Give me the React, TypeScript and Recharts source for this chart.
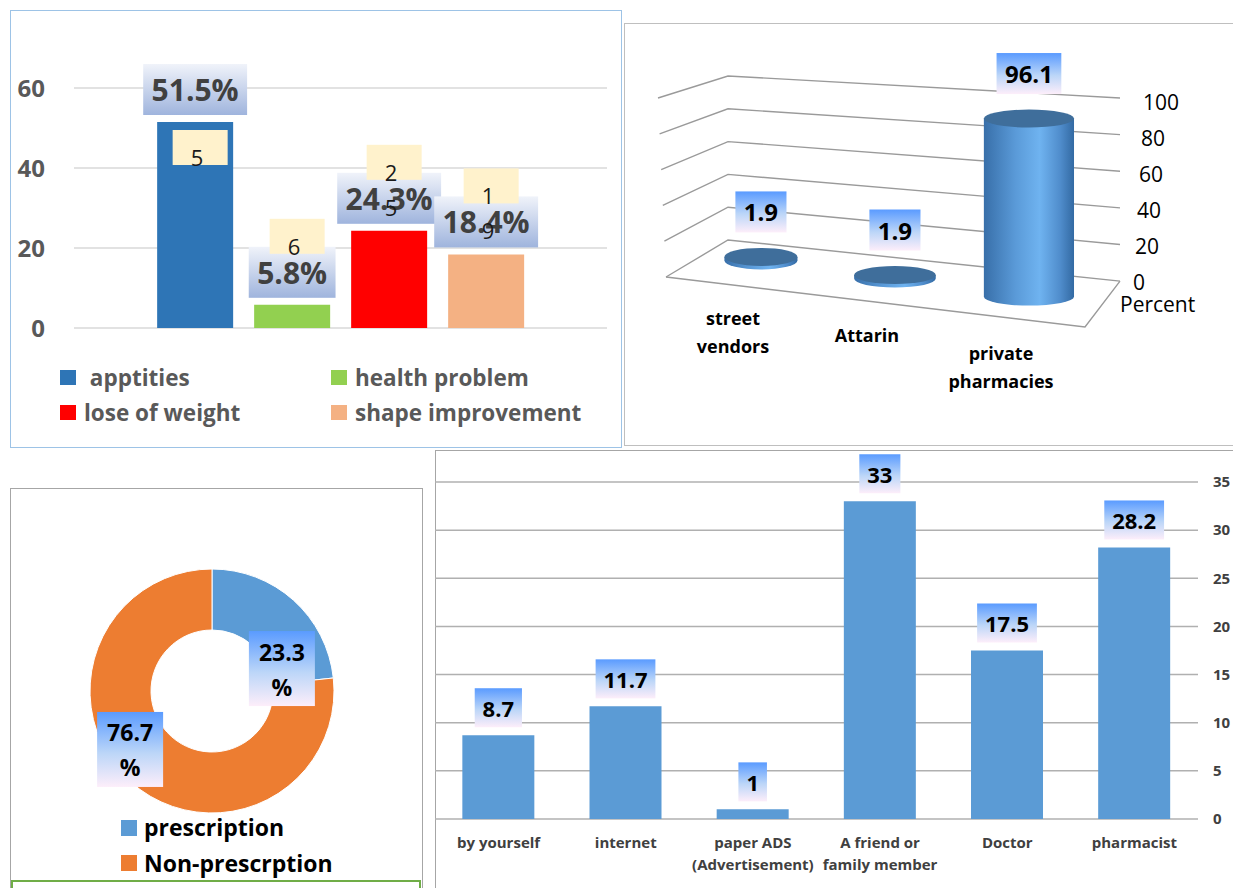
import React from 'react';
import { BarChart, Bar, XAxis, YAxis, CartesianGrid, LabelList, Legend, PieChart, Pie, Cell } from 'recharts';

const FONT = '"Open Sans", "Noto Sans", sans-serif';

// top-left panel: reasons
const reasonNames = [' apptities', 'health problem', 'lose of weight', 'shape improvement'];
const reasonValues = [51.5, 5.8, 24.3, 18.4];
const reasonNotes = ['5', '6', '2\n5', '1\n9'];
const reasonColors = ['#2e75b6', '#92d050', '#ff0000', '#f4b183'];
const reasonTicks = [0, 20, 40, 60];

// top-right panel: where bought
const sourceNames = ['street vendors', 'Attarin', 'private pharmacies'];
const sourceValues = [1.9, 1.9, 96.1];
const sourceTicks = [0, 20, 40, 60, 80, 100];

// bottom-left panel: prescription
const rxNames = ['prescription', 'Non-prescrption'];
const rxValues = [23.3, 76.7];
const rxColors = ['#5b9bd5', '#ed7d31'];

// bottom-right panel: advice source
const adviceNames = ['by yourself', 'internet', 'paper ADS\n(Advertisement)', 'A friend or\nfamily member', 'Doctor', 'pharmacist'];
const adviceValues = [8.7, 11.7, 1, 33, 17.5, 28.2];
const adviceTicks = [0, 5, 10, 15, 20, 25, 30, 35];

const reasonRow: any = { name: '' };
reasonValues.forEach((v, i) => { reasonRow[`s${i}`] = v; });
const sourceData = sourceNames.map((name, i) => ({ name, value: sourceValues[i] }));
const rxData = rxNames.map((name, i) => ({ name, value: rxValues[i] }));
const adviceData = adviceNames.map((name, i) => ({ name, value: adviceValues[i] }));

const textWidth = (s: string, size: number) => {
  let w = 0;
  for (const ch of s) w += ch === '.' ? 0.28 : ch === '%' ? 0.84 : 0.57;
  return w * size;
};

const vbOf = (p: any) => (p.viewBox && p.viewBox.width !== undefined ? p.viewBox : p);

const BoxStops = () => (
  <>
    <stop offset="0%" stopColor="#5a9bff" />
    <stop offset="55%" stopColor="#bcd6f8" />
    <stop offset="100%" stopColor="#fdeefa" />
  </>
);

// ---------- panel A ----------
const A_TOP = 48;

// only draw lines at the ticks, not at the top edge of the plot
const gridA = (p: any) => {
  if (Math.abs(p.y1 - (p.y ?? A_TOP)) < 1) return <g key={p.key} />;
  return <line key={p.key} x1={p.x1} x2={p.x2} y1={p.y1} y2={p.y2} stroke="#d9d9d9" strokeWidth={1.5} />;
};

const reasonLabel = (p: any) => {
  const vb = vbOf(p);
  const txt = `${p.value}%`;
  const bw = textWidth(txt, 30) + 19;
  const bh = 51;
  const cx = vb.x + vb.width / 2;
  const top = vb.y - 7 - bh;
  return (
    <g>
      <rect x={cx - bw / 2} y={top} width={bw} height={bh} fill="url(#boxA)" />
      <text x={cx} y={top + bh / 2} textAnchor="middle" dominantBaseline="central" fontSize={30} fontWeight={700} fill="#404040" fontFamily={FONT}>{txt}</text>
    </g>
  );
};

const noteLabel = (note: string) => (p: any) => {
  const vb = vbOf(p);
  const cx = vb.x + vb.width / 2 + 5;
  let top = vb.y - 86;
  if (top < A_TOP) top = vb.y + 8;
  const lines = note.split('\n');
  return (
    <g>
      <rect x={cx - 27.5} y={top} width={55} height={35} fill="#fff2cc" />
      {lines.map((t, i) => (
        <text key={i} x={cx - 3} y={top + 27 + i * 35} textAnchor="middle" dominantBaseline="central" fontSize={22} fill="#1a1a1a" fontFamily={FONT}>{t}</text>
      ))}
    </g>
  );
};

const reasonLegend = (props: any) => (
  <div style={{ display: 'grid', gridTemplateColumns: '271px 290px', paddingLeft: 60, height: 70, fontFamily: FONT }}>
    {(props.payload || []).map((e: any) => (
      <div key={e.value} style={{ display: 'flex', alignItems: 'center', height: 35 }}>
        <span style={{ width: 16, height: 15, background: e.color, marginRight: 8, flex: 'none' }} />
        <span style={{ whiteSpace: 'pre', fontSize: 22.5, fontWeight: 700, color: '#595959', lineHeight: '35px' }}>{e.value}</span>
      </div>
    ))}
  </div>
);

const ReasonChart = () => (
  <BarChart width={625} height={450} data={[reasonRow]} margin={{ top: A_TOP, right: 18, bottom: 20, left: 0 }} barGap={21} barCategoryGap="15.6%">
    <defs>
      <linearGradient id="boxA" x1="0" y1="0" x2="0" y2="1">
        <stop offset="0%" stopColor="#f0f3fa" />
        <stop offset="100%" stopColor="#9fb4dd" />
      </linearGradient>
    </defs>
    <CartesianGrid vertical={false} horizontal={gridA} />
    <XAxis dataKey="name" tick={false} axisLine={false} tickLine={false} height={32} />
    <YAxis domain={[0, 70]} ticks={reasonTicks} axisLine={false} tickLine={false} width={74} tickMargin={23}
      tick={{ fontSize: 24, fontWeight: 700, fill: '#595959', fontFamily: FONT }} />
    <Legend verticalAlign="bottom" content={reasonLegend} wrapperStyle={{ left: 0, width: 625 }} />
    {reasonNames.map((n, i) => (
      <Bar key={n} dataKey={`s${i}`} name={n} fill={reasonColors[i]} isAnimationActive={false}>
        <LabelList dataKey={`s${i}`} content={reasonLabel} />
        <LabelList dataKey={`s${i}`} content={noteLabel(reasonNotes[i])} />
      </Bar>
    ))}
  </BarChart>
);

// ---------- panel B (3D look) ----------
const B_LEFT = 69;
const B_BACK = B_LEFT + 34;
const B_RIGHT = 495;
const B_BOTTOM = 216;
const GRID_B = '#9a9a9a';

const slopeAt = (t: number) => 0.105 - 0.049 * t;

const perspectiveLine = (p: any) => {
  const top = p.y ?? 52;
  const h = p.height ?? 164;
  const t = Math.max(0, Math.min(1, (top + h - p.y1) / h));
  const bx = p.x1 + 34;
  const rightY = p.y1 + slopeAt(t) * (p.x2 - bx);
  const lx = bx - 62 - 8 * t;
  const ly = p.y1 + 37 - 15 * t;
  return (
    <g key={p.key}>
      <polyline points={`${lx},${ly} ${bx},${p.y1} ${p.x2},${rightY}`} fill="none" stroke={GRID_B} strokeWidth={1.4} />
      {t < 0.01 && (
        <polyline points={`${lx},${ly} ${p.x2 - 35},${p.y1 + 87} ${p.x2},${rightY}`} fill="none" stroke={GRID_B} strokeWidth={1.4} />
      )}
    </g>
  );
};

const cylinder = (x: number, y: number, w: number, h: number) => {
  const cx = x + w / 2;
  const d = cx - B_BACK;
  const base = y + h + 16 + 0.135 * d;
  const hh = h * 1.13;
  const rx = (w / 2) * (0.78 + 0.0007 * d);
  return { cx, base, top: base - hh, rx, ry: 9 };
};

const CylinderShape = (p: any) => {
  const { cx, base, top, rx, ry } = cylinder(p.x, p.y, p.width, p.height);
  return (
    <g>
      <path d={`M${cx - rx},${top} L${cx - rx},${base} A${rx},${ry} 0 0 0 ${cx + rx},${base} L${cx + rx},${top} Z`} fill="url(#cylSide)" />
      <ellipse cx={cx} cy={top} rx={rx} ry={ry} fill="#3f6e9b" />
    </g>
  );
};

const cylLabel = (p: any) => {
  const vb = vbOf(p);
  const g = cylinder(vb.x, vb.y, vb.width, vb.height);
  const txt = String(p.value);
  const bw = textWidth(txt, 24) + 17;
  const bh = 41;
  const cy = g.top - 45;
  return (
    <g>
      <rect x={g.cx - bw / 2} y={cy - bh / 2} width={bw} height={bh} fill="url(#boxB)" />
      <text x={g.cx} y={cy} textAnchor="middle" dominantBaseline="central" fontSize={24} fontWeight={700} fill="#000" fontFamily={FONT}>{txt}</text>
    </g>
  );
};

const SourceTick = (p: any) => {
  const d = p.x - B_BACK;
  const words = String(p.payload.value).split(' ');
  const y0 = B_BOTTOM + 74 + 0.128 * d;
  return (
    <g>
      {words.map((w, i) => (
        <text key={i} x={p.x - 28} y={y0 + i * 28} textAnchor="middle" dominantBaseline="central" fontSize={18} fontWeight={700} fill="#000" fontFamily={FONT}>{w}</text>
      ))}
    </g>
  );
};

const PercentTick = (p: any) => {
  const v = p.payload.value;
  const t = v / 100;
  const endY = p.y + slopeAt(t) * (B_RIGHT - B_BACK);
  return (
    <g>
      <text x={B_RIGHT + 13 + 10 * t} y={endY + 1 + 3 * t} dominantBaseline="central" fontSize={21} fill="#000" fontFamily={FONT}>{v}</text>
      {v === 0 && (
        <text x={B_RIGHT} y={endY + 23} dominantBaseline="central" fontSize={21} fill="#000" fontFamily={FONT}>Percent</text>
      )}
    </g>
  );
};

const SourceChart = () => (
  <BarChart width={608} height={421} data={sourceData} margin={{ top: 52, right: 0, bottom: 165, left: B_LEFT }} barCategoryGap="16%">
    <defs>
      <linearGradient id="cylSide" x1="0" y1="0" x2="1" y2="0">
        <stop offset="0%" stopColor="#386fa9" />
        <stop offset="35%" stopColor="#5a9ad8" />
        <stop offset="62%" stopColor="#6fb3f0" />
        <stop offset="85%" stopColor="#4f8ccb" />
        <stop offset="100%" stopColor="#336aa3" />
      </linearGradient>
      <linearGradient id="boxB" x1="0" y1="0" x2="0" y2="1"><BoxStops /></linearGradient>
    </defs>
    <CartesianGrid vertical={false} horizontal={perspectiveLine} />
    <XAxis dataKey="name" axisLine={false} tickLine={false} height={40} padding={{ left: 0, right: 24 }} tick={<SourceTick />} interval={0} />
    <YAxis orientation="right" domain={[0, 100]} ticks={sourceTicks} axisLine={false} tickLine={false} width={113} tick={<PercentTick />} />
    <Bar dataKey="value" shape={<CylinderShape />} isAnimationActive={false}>
      <LabelList dataKey="value" content={cylLabel} />
    </Bar>
  </BarChart>
);

// ---------- panel C (donut) ----------
const RAD = Math.PI / 180;

const pieLabel = (p: any) => {
  const a = (p.midAngle - 20) * RAD;
  const r = 86;
  const x = p.cx + r * Math.cos(a) - 6;
  const y = p.cy - r * Math.sin(a) + 18;
  const bw = 66;
  const bh = 75;
  return (
    <g>
      <rect x={x - bw / 2} y={y - bh / 2} width={bw} height={bh} fill="url(#boxC)" />
      <text x={x} y={y - 17} textAnchor="middle" dominantBaseline="central" fontSize={23} fontWeight={700} fill="#000" fontFamily={FONT}>{p.value}</text>
      <text x={x} y={y + 18} textAnchor="middle" dominantBaseline="central" fontSize={23} fontWeight={700} fill="#000" fontFamily={FONT}>%</text>
    </g>
  );
};

const rxLegend = (props: any) => {
  const items = [...(props.payload || [])].sort((a: any, b: any) => rxNames.indexOf(a.value) - rxNames.indexOf(b.value));
  return (
    <div style={{ paddingTop: 2, paddingLeft: 111, height: 78, fontFamily: FONT }}>
      {items.map((e: any) => (
        <div key={e.value} style={{ display: 'flex', alignItems: 'center', height: 35.5 }}>
          <span style={{ width: 16, height: 16, background: e.color, marginRight: 7, flex: 'none' }} />
          <span style={{ fontSize: 23, fontWeight: 700, color: '#000', lineHeight: '35px' }}>{e.value}</span>
        </div>
      ))}
    </div>
  );
};

const RxChart = () => (
  <PieChart width={412} height={399} margin={{ top: 0, right: 0, bottom: 0, left: 0 }}>
    <defs>
      <linearGradient id="boxC" x1="0" y1="0" x2="0" y2="1"><BoxStops /></linearGradient>
    </defs>
    <Pie data={rxData} dataKey="value" nameKey="name" cx={202} cy={202} innerRadius={61} outerRadius={122}
      startAngle={90} endAngle={-270} stroke="#ffffff" strokeWidth={1} label={pieLabel} labelLine={false} isAnimationActive={false}>
      {rxData.map((d, i) => <Cell key={d.name} fill={rxColors[i]} />)}
    </Pie>
    <Legend verticalAlign="bottom" content={rxLegend} wrapperStyle={{ left: 0, width: 412 }} />
  </PieChart>
);

// ---------- panel D ----------
const adviceLabel = (p: any) => {
  const vb = vbOf(p);
  const txt = String(p.value);
  const bw = textWidth(txt, 22) + 16;
  const bh = 39;
  const cx = vb.x + vb.width / 2;
  const top = vb.y - 8 - bh;
  return (
    <g>
      <rect x={cx - bw / 2} y={top} width={bw} height={bh} fill="url(#boxD)" />
      <text x={cx} y={top + bh / 2} textAnchor="middle" dominantBaseline="central" fontSize={22} fontWeight={700} fill="#000" fontFamily={FONT}>{txt}</text>
    </g>
  );
};

const AdviceTick = (p: any) => {
  const lines = String(p.payload.value).split('\n');
  return (
    <g>
      {lines.map((l, i) => (
        <text key={i} x={p.x} y={p.y + 15 + i * 22} textAnchor="middle" dominantBaseline="central" fontSize={15} fontWeight={700} fill="#404040" fontFamily={FONT}>{l}</text>
      ))}
    </g>
  );
};

const AdviceChart = () => (
  <BarChart width={798} height={437} data={adviceData} margin={{ top: 31, right: 0, bottom: 0, left: 0 }} barCategoryGap="21.5%">
    <defs>
      <linearGradient id="boxD" x1="0" y1="0" x2="0" y2="1"><BoxStops /></linearGradient>
    </defs>
    <CartesianGrid vertical={false} stroke="#b0b0b0" strokeWidth={1.5} />
    <XAxis dataKey="name" axisLine={false} tickLine={false} height={69} interval={0} tick={<AdviceTick />} />
    <YAxis orientation="right" domain={[0, 35]} ticks={adviceTicks} axisLine={false} tickLine={false} width={35} tickMargin={9}
      tick={{ fontSize: 15, fontWeight: 700, fill: '#404040', fontFamily: FONT }} />
    <Bar dataKey="value" fill="#5b9bd5" isAnimationActive={false}>
      <LabelList dataKey="value" content={adviceLabel} />
    </Bar>
  </BarChart>
);

const frame = (left: number, top: number, width: number, height: number, color: string, bw = 1.5): React.CSSProperties => ({
  position: 'absolute', left, top, width, height, border: `${bw}px solid ${color}`, boxSizing: 'border-box',
});

const at = (left: number, top: number): React.CSSProperties => ({ position: 'absolute', left, top });

export default function App() {
  return (
    <div style={{ position: 'absolute', left: 0, top: 0, width: 1233, height: 888, overflow: 'hidden', background: '#fff', fontFamily: FONT }}>
      <div style={frame(10, 10, 612, 438, '#9dc3e6')} />
      <div style={frame(624, 23, 620, 423, '#bfbfbf')} />
      <div style={frame(10, 488, 413, 410, '#a6a6a6')} />
      <div style={frame(11, 880, 410, 20, '#70ad47', 2)} />
      <div style={frame(435, 450, 810, 450, '#a6a6a6')} />
      <div style={at(0, 0)}><ReasonChart /></div>
      <div style={at(625, 24)}><SourceChart /></div>
      <div style={at(10, 489)}><RxChart /></div>
      <div style={at(435, 451)}><AdviceChart /></div>
    </div>
  );
}
